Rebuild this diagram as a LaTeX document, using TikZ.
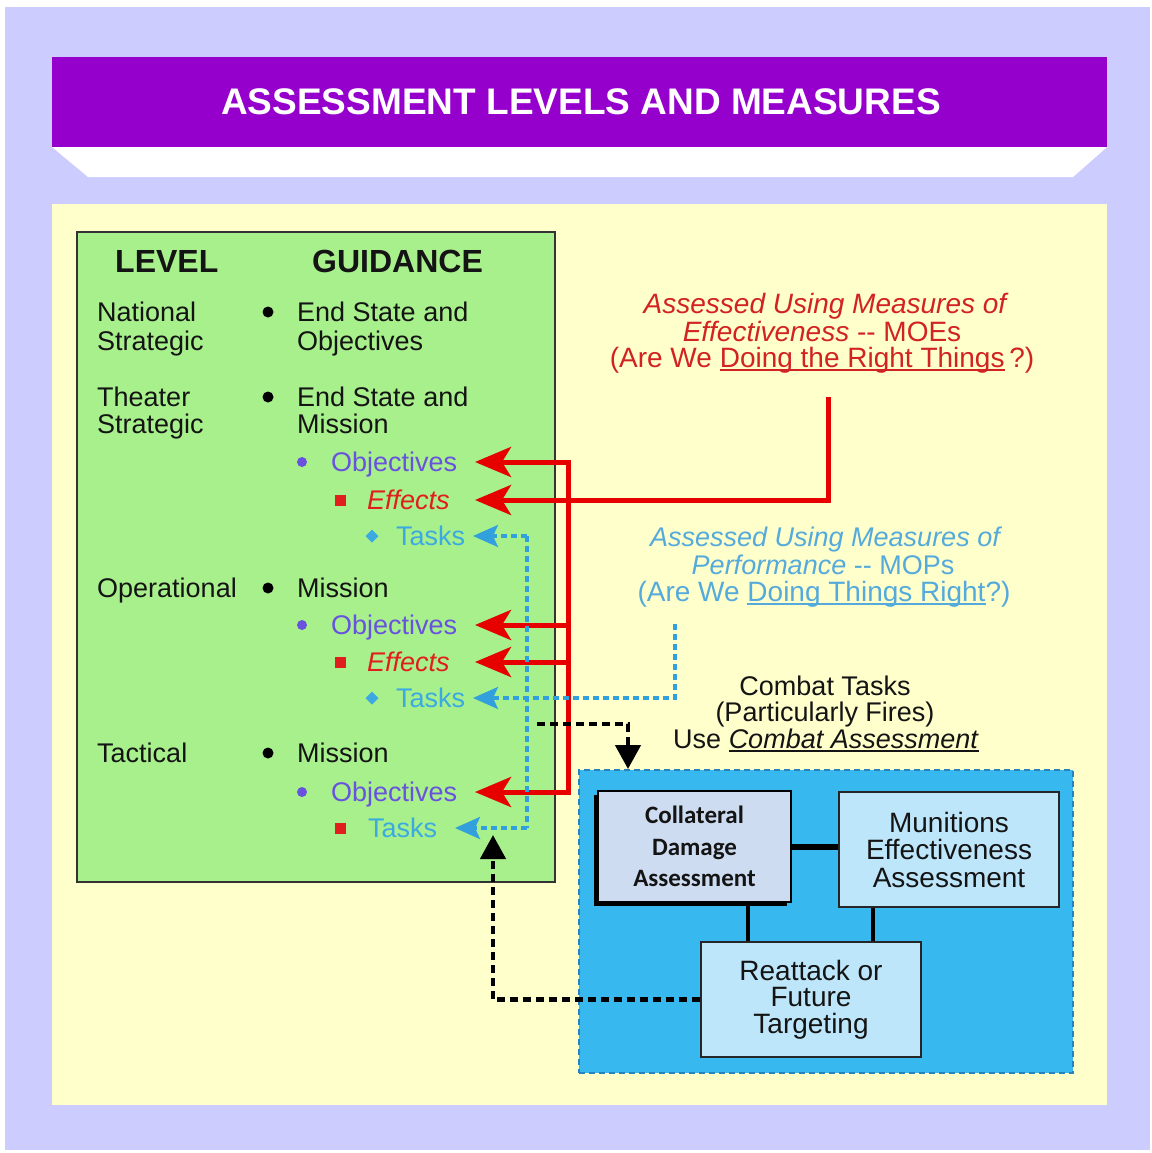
\documentclass[tikz,border=0pt]{standalone}
\usepackage{fontspec}
\setmainfont{Liberation Sans}
\newfontfamily\carlito{Carlito}
\usetikzlibrary{arrows.meta,calc,shadows}
\definecolor{lav}{RGB}{204,204,255}
\definecolor{purp}{RGB}{150,0,204}
\definecolor{yel}{RGB}{255,255,204}
\definecolor{grn}{RGB}{168,240,140}
\definecolor{ink}{RGB}{20,20,20}
\definecolor{objc}{RGB}{104,82,222}
\definecolor{effc}{RGB}{225,30,30}
\definecolor{tskc}{RGB}{60,170,225}
\definecolor{moec}{RGB}{210,35,35}
\definecolor{mopc}{RGB}{85,170,220}
\definecolor{arrred}{RGB}{230,0,0}
\definecolor{dashblue}{RGB}{50,160,220}
\definecolor{cafill}{RGB}{55,185,240}
\definecolor{caedge}{RGB}{40,130,190}
\definecolor{cdafill}{RGB}{205,220,240}
\definecolor{mfill}{RGB}{190,230,250}
\newsavebox\myulbox
\newcommand\myul[1]{\sbox\myulbox{#1}\rlap{\rule[-3.5pt]{\wd\myulbox}{1.4pt}}\usebox\myulbox}
\begin{document}
\begin{tikzpicture}[x=1pt,y=-1pt,
  body/.style={inner sep=0pt, font=\fontsize{27}{29}\selectfont, text=ink, text height=19.5pt, text depth=0pt, anchor=west},
  hdr/.style={body, font=\fontsize{32}{34}\selectfont\bfseries, text height=23pt},
  obj/.style={body, text=objc},
  eff/.style={body, text=effc, font=\fontsize{27}{29}\selectfont\itshape},
  tsk/.style={body, text=tskc},
  note/.style={inner sep=0pt, font=\fontsize{28}{30}\selectfont, anchor=base},
  cnote/.style={inner sep=0pt, font=\fontsize{27}{29}\selectfont, anchor=base, text=ink},
  redline/.style={draw=arrred, line width=5pt, line cap=rect},
  redarr/.style={draw=arrred, line width=5pt, -{Stealth[length=36pt,width=30pt,inset=9pt]}},
  bluedash/.style={draw=dashblue, line width=3.2pt, dash pattern=on 6pt off 4pt},
  bluearr/.style={bluedash, -{Stealth[length=25pt,width=22pt,inset=5pt]}},
  blkarr/.style={draw=black, line width=4.5pt, dash pattern=on 8pt off 5pt, -{Triangle[length=24pt,width=25pt]}},
  abox/.style={inner sep=0pt, align=center, text=ink, minimum width=220pt, minimum height=115pt}
]
\useasboundingbox (0,0) rectangle (1151,1153);
\fill[white] (0,0) rectangle (1151,1153);
\fill[lav] (5,7) rectangle (1150,1150);
% banner
\fill[white] (52,147) -- (1107,147) -- (1073,177) -- (88,177) -- cycle;
\fill[purp] (52,57) rectangle (1107,147);
\node[text=white, font=\fontsize{37}{40}\selectfont\bfseries, anchor=base, inner sep=0pt] (title) at (581,114) {ASSESSMENT LEVELS AND MEASURES};
% panel
\fill[yel] (52,204) rectangle (1107,1105);
\draw[fill=grn, draw=black!80, line width=1.5pt] (77,232) rectangle (555,882);

% headers
\node[hdr] (lvl) at (115,261) {LEVEL};
\node[hdr] (gd) at (312,261) {GUIDANCE};
% national
\node[body] (nat1) at (97,312) {National};
\node[body] (nat2) at (97,341) {Strategic};
\node[body] (natg1) at (297,312) {End State and};
\node[body] (natg2) at (297,341) {Objectives};
% theater
\node[body] (th1) at (97,397) {Theater};
\node[body] (th2) at (97,424) {Strategic};
\node[body] (thg1) at (297,397) {End State and};
\node[body] (thg2) at (297,424) {Mission};
\node[obj] (objT) at (331,462) {Objectives};
\node[eff] (effT) at (367,500) {Effects};
\node[tsk] (tskT) at (396,536) {Tasks};
% operational
\node[body] (op1) at (97,588) {Operational};
\node[body] (opg1) at (297,588) {Mission};
\node[obj] (objO) at (331,625) {Objectives};
\node[eff] (effO) at (367,662) {Effects};
\node[tsk] (tskO) at (396,698) {Tasks};
% tactical
\node[body] (tc1) at (97,753) {Tactical};
\node[body] (tcg1) at (297,753) {Mission};
\node[obj] (objTac) at (331,792) {Objectives};
\node[tsk] (tskTac) at (368,828) {Tasks};

% bullets
\foreach \yy in {312,397,588,753} \fill[black] (268,\yy) circle (5.5);
\foreach \yy in {462,625,792} \fill[objc] (302,\yy) circle (5);
\foreach \yy in {500,662,828} \fill[effc] (334.5,\yy-5.5) rectangle (345.5,\yy+5.5);
\foreach \yy in {536,698} \fill[tskc] (372,\yy-6.5) -- (378.5,\yy) -- (372,\yy+6.5) -- (365.5,\yy) -- cycle;

% right texts
\node[note, text=moec, font=\fontsize{28}{30}\selectfont\itshape] (moe1) at (825,313) {Assessed Using Measures of};
\node[note, text=moec] (moe2) at (822,341) {\textit{Effectiveness} -{}- MOEs};
\node[note, text=moec] (moe3) at (822,367) {(Are We \myul{Doing the Right Things}\,?)};
\node[note, text=mopc, font=\fontsize{27}{30}\selectfont\itshape] (mop1) at (825,546) {Assessed Using Measures of};
\node[note, text=mopc, font=\fontsize{27}{30}\selectfont] (mop2) at (823,574) {\textit{Performance} -{}- MOPs};
\node[note, text=mopc] (mop3) at (824,601) {(Are We \myul{Doing Things Right}?)};
\node[cnote] (cb1) at (825,695) {Combat Tasks};
\node[cnote] (cb2) at (825,721) {(Particularly Fires)};
\node[cnote] (cb3) at (826,748) {Use \myul{\textit{Combat Assessment}}};

% combat assessment box
\node[draw=caedge, fill=cafill, line width=2pt, dash pattern=on 6pt off 4pt, minimum width=494pt, minimum height=303pt, inner sep=0pt] (ca) at (826,921.5) {};
\node[abox, fill=cdafill, draw=black, line width=2pt, minimum width=193pt, minimum height=111pt,
      drop shadow={shadow xshift=-4pt, shadow yshift=-4pt, fill=black, opacity=1},
      font={\carlito\bfseries\fontsize{25}{31.5}\selectfont}] (cda) at (694.5,846.5) {Collateral\\Damage\\Assessment};
\node[abox, fill=mfill, draw=black!85, line width=1.8pt, font=\fontsize{28}{27.5}\selectfont] (mea) at (949,849.5) {Munitions\\Effectiveness\\Assessment};
\node[abox, fill=mfill, draw=black!85, line width=1.8pt, font=\fontsize{28}{26.5}\selectfont] (reat) at (811,999.5) {Reattack or\\Future\\Targeting};
\coordinate (vL) at (748,0);
\coordinate (vR) at (873,0);
\draw[line width=6pt] (cda.east) -- (cda.east -| mea.west);
\draw[line width=3.5pt] (cda.south -| vL) -- (reat.north -| vL);
\draw[line width=4pt] (mea.south -| vR) -- (reat.north -| vR);

% red connectors
\coordinate (rv) at (568,0);
\coordinate (rtip) at (475,0);
\coordinate (moeFoot) at (828,397);
\draw[redline] (objT.east -| rv) -- (objTac.east -| rv);
\foreach \n in {objT,objO,effO,objTac} \draw[redarr] (\n.east -| rv) -- (\n.east -| rtip);
\draw[redarr] (moeFoot) |- (effT.east -| rtip);

% blue connectors
\coordinate (bv) at (527,0);
\coordinate (btip) at (473,0);
\coordinate (btip2) at (455,0);
\coordinate (mopFoot) at (675,624);
\draw[bluedash] (tskT.east -| bv) -- (tskTac.east -| bv);
\draw[bluearr] (tskT.east -| bv) -- (tskT.east -| btip);
\draw[bluearr] (tskTac.east -| bv) -- (tskTac.east -| btip2);
\draw[bluearr] (mopFoot) |- (tskO.east -| btip);

% black connectors
\coordinate (blkStart) at (537,724);
\coordinate (caEntry) at (628,0);
\coordinate (retTip) at (493,835);
\draw[blkarr] (blkStart) -| (ca.north -| caEntry);
\draw[blkarr] (reat.west) -| (retTip);
\end{tikzpicture}
\end{document}
